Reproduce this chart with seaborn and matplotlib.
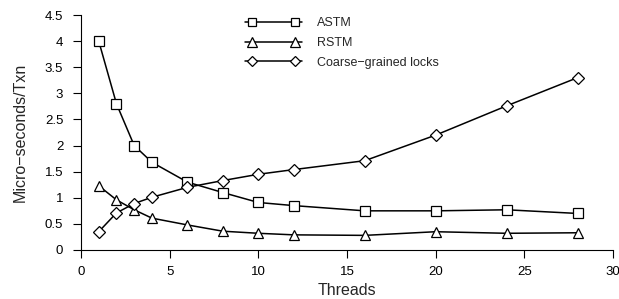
import matplotlib
matplotlib.use("Agg")
import matplotlib.pyplot as plt
from matplotlib.lines import Line2D
from matplotlib.legend_handler import HandlerLine2D
import numpy as np
import seaborn as sns
import pandas as pd

threads = [1, 2, 3, 4, 6, 8, 10, 12, 16, 20, 24, 28]
astm = [4.0, 2.8, 2.0, 1.68, 1.30, 1.10, 0.91, 0.85, 0.75, 0.75, 0.77, 0.70]
rstm = [1.23, 0.96, 0.77, 0.61, 0.48, 0.36, 0.32, 0.29, 0.28, 0.35, 0.32, 0.33]
cgl = [0.35, 0.71, 0.89, 1.01, 1.20, 1.33, 1.45, 1.54, 1.71, 2.20, 2.76, 3.30]
series_names = ["ASTM", "RSTM", "Coarse\u2212grained locks"]
series_markers = ["s", "^", "D"]
series_msize = [7, 7.5, 6]


class EndPadHandler(HandlerLine2D):
    def create_artists(self, legend, orig_handle, xdescent, ydescent, width,
                       height, fontsize, trans):
        pad = 0.55 * fontsize
        x0 = -xdescent
        x1 = -xdescent + width
        xdata = np.array([x0, x0 + pad, x1 - pad, x1])
        ydata = np.full_like(xdata, (height - ydescent) / 2)
        legline = Line2D(xdata, ydata, markevery=[1, 2])
        self.update_prop(legline, orig_handle, legend)
        legline.set_markersize(orig_handle.get_markersize() * 0.9)
        legline.set_transform(trans)
        return [legline]


sns.set_style("ticks")
plt.rcParams["font.family"] = ["Liberation Sans", "DejaVu Sans"]

fig = plt.figure(figsize=(6.19, 2.99), dpi=100)
ax = fig.add_axes([81 / 619, 49 / 299, 532 / 619, 235 / 299])

for name, vals, mk, ms in zip(series_names, [astm, rstm, cgl], series_markers, series_msize):
    df = pd.DataFrame({"Threads": threads, "val": vals})
    sns.lineplot(data=df, x="Threads", y="val", ax=ax, color="black", marker=mk,
                 markersize=ms, markerfacecolor="white", markeredgecolor="black",
                 markeredgewidth=0.9, linewidth=1.1, label=name, clip_on=False)

ax.set_xlim(0, 30)
ax.set_ylim(0, 4.5)
ax.set_xticks([0, 5, 10, 15, 20, 25, 30])
ax.set_yticks([0, 0.5, 1, 1.5, 2, 2.5, 3, 3.5, 4, 4.5])
ax.set_yticklabels(["0", "0.5", "1", "1.5", "2", "2.5", "3", "3.5", "4", "4.5"])
ax.set_xlabel("Threads", fontsize=11.5, labelpad=3.5)
ax.set_ylabel("Micro\u2212seconds/Txn", fontsize=11.5, labelpad=12)
ax.tick_params(axis="both", labelsize=9.5, length=5.8, width=0.8, colors="black", direction="out")
ax.tick_params(axis="x", pad=5.5)
ax.tick_params(axis="y", pad=7)
for s in ["left", "bottom"]:
    ax.spines[s].set_linewidth(0.8)
    ax.spines[s].set_color("black")
sns.despine(ax=ax)

handles, labels = ax.get_legend_handles_labels()
ax.legend(handles, labels, loc="upper left", bbox_to_anchor=(0.308, 0.99),
          frameon=False, numpoints=2, handlelength=4.6, fontsize=9,
          labelspacing=0.62, handletextpad=1.15, borderpad=0, borderaxespad=0,
          handler_map={Line2D: EndPadHandler()})

fig.savefig("out.png", dpi=100)
